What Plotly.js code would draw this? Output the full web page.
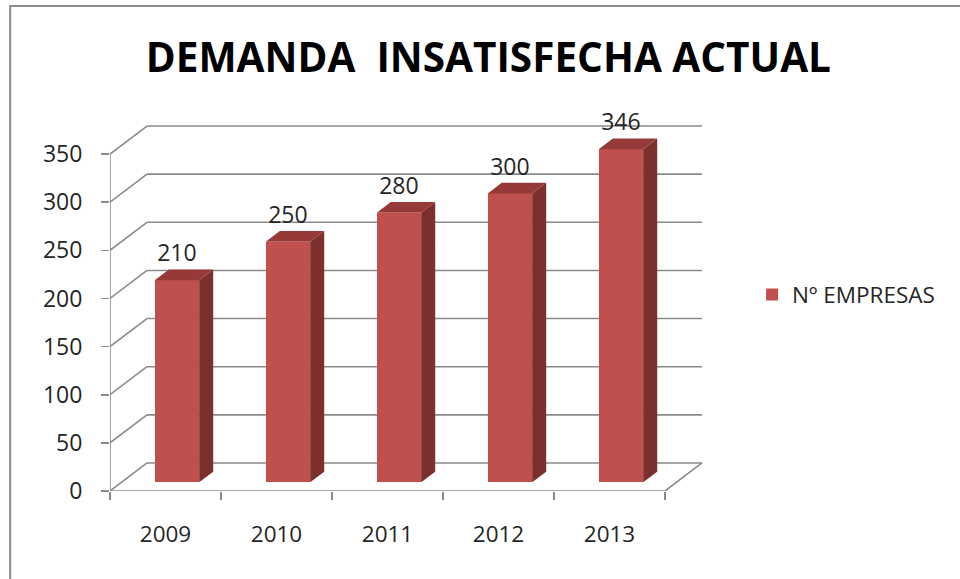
<!DOCTYPE html>
<html>
<head>
<meta charset="utf-8">
<script src="https://cdn.plot.ly/plotly-3.0.1.min.js"></script>
<style>
  html, body { margin: 0; padding: 0; background: #ffffff; }
  #chart { width: 960px; height: 579px; }
</style>
</head>
<body>
<div id="chart"></div>
<script>
// ---- data ----
const years = ['2009', '2010', '2011', '2012', '2013'];
const empresas = [210, 250, 280, 300, 346];
const yTicks = [0, 50, 100, 150, 200, 250, 300, 350];
const seriesName = 'Nº EMPRESAS';
const titleText = 'DEMANDA\u00a0\u00a0INSATISFECHA ACTUAL';

// ---- oblique 3D projection (depth offset in axis units) ----
const DX = 0.333;   // full depth along x (category units)
const DV = 29.1;    // full depth along y (value units)
const d0 = 0.31, d1 = 0.69;  // bar front / back depth
const W = 0.4;               // bar width
const n = years.length;
const idx = years.map((_, i) => i);

const frontX = idx.map(i => i + d0 * DX);
const base0 = d0 * DV;
const ddx = (d1 - d0) * DX, ddv = (d1 - d0) * DV;

// side and top faces
const sideX = [], sideY = [], topX = [], topY = [];
empresas.forEach((v, i) => {
  const xl = frontX[i] - W / 2, xr = frontX[i] + W / 2;
  const top = base0 + v;
  sideX.push(xr, xr, xr + ddx, xr + ddx, xr, null);
  sideY.push(base0, top, top + ddv, base0 + ddv, base0, null);
  topX.push(xl, xr, xr + ddx, xl + ddx, xl, null);
  topY.push(top, top, top + ddv, top + ddv, top, null);
});

const labelY = empresas.map(v => base0 + v + ddv + 14.5);

const FONT = 'Open Sans, Lato, sans-serif';
const gridColor = '#8a8a8a';

// ---- walls / gridlines as shapes ----
const shapes = [];
const xl0 = -0.5, xr0 = n - 0.5;
yTicks.forEach(t => {
  shapes.push({type: 'line', xref: 'x', yref: 'y', x0: xl0, y0: t, x1: xl0 + DX, y1: t + DV,
               line: {color: gridColor, width: 1.6}, layer: 'below'});
  shapes.push({type: 'line', xref: 'x', yref: 'y', x0: xl0 + DX, y0: t + DV, x1: xr0 + DX, y1: t + DV,
               line: {color: gridColor, width: 1.6}, layer: 'below'});
});
// front floor edge, right floor edge, front value axis
shapes.push({type: 'line', xref: 'x', yref: 'y', x0: xl0, y0: 0, x1: xr0, y1: 0,
             line: {color: gridColor, width: 1.6}, layer: 'below'});
shapes.push({type: 'line', xref: 'x', yref: 'y', x0: xr0, y0: 0, x1: xr0 + DX, y1: DV,
             line: {color: gridColor, width: 1.6}, layer: 'below'});
shapes.push({type: 'line', xref: 'x', yref: 'y', x0: xl0, y0: 0, x1: xl0, y1: yTicks[yTicks.length - 1],
             line: {color: gridColor, width: 1.6}, layer: 'below'});
// chart frame
shapes.push({type: 'rect', xref: 'paper', yref: 'paper', x0: -0.168, y0: -0.4, x1: 1.5, y1: 1.276,
             line: {color: '#8c8c8c', width: 2}, fillcolor: 'rgba(0,0,0,0)', layer: 'below'});

const traces = [
  {type: 'scatter', x: sideX, y: sideY, mode: 'lines', fill: 'toself',
   fillcolor: '#7b302e', line: {width: 0}, showlegend: false, hoverinfo: 'skip'},
  {type: 'scatter', x: topX, y: topY, mode: 'lines', fill: 'toself',
   fillcolor: '#953a38', line: {width: 0}, showlegend: false, hoverinfo: 'skip'},
  {type: 'bar', name: seriesName, x: frontX, y: empresas, base: idx.map(() => base0),
   width: W, marker: {color: '#c0504d', line: {width: 0}}, showlegend: true},
  {type: 'scatter', x: frontX, y: labelY, mode: 'text', text: empresas.map(String),
   textposition: 'middle center', textfont: {family: FONT, size: 23, color: '#262626'},
   cliponaxis: false, showlegend: false, hoverinfo: 'skip'},
  // invisible helper to carry boundary tick marks on the secondary x axis
  {type: 'scatter', x: [xl0], y: [0], xaxis: 'x2', mode: 'markers',
   marker: {opacity: 0}, showlegend: false, hoverinfo: 'skip'}
];

const xRange = [-0.5, -0.5 + 594 / 111];
const layout = {
  width: 960, height: 579,
  margin: {l: 110, r: 256, t: 111, b: 88, pad: 0},
  paper_bgcolor: '#ffffff', plot_bgcolor: 'rgba(0,0,0,0)',
  font: {family: FONT, color: '#262626'},
  title: {text: titleText, font: {family: FONT, size: 40.5, color: '#000000', weight: 'bold'},
          x: 0.637, xref: 'paper', xanchor: 'center', y: 0.9, yref: 'container', yanchor: 'middle'},
  showlegend: true,
  legend: {x: 1.081, xanchor: 'left', y: 0.516, yanchor: 'middle',
           font: {family: FONT, size: 22.5, color: '#262626'}, bgcolor: 'rgba(0,0,0,0)'},
  xaxis: {range: xRange, tickmode: 'array', tickvals: idx, ticktext: years,
          ticks: '', showgrid: false, zeroline: false, showline: false,
          tickfont: {family: FONT, size: 22.5, color: '#262626'}, ticklabelstandoff: 27},
  xaxis2: {range: xRange, overlaying: 'x', side: 'bottom', anchor: 'y', tickmode: 'array',
           tickvals: idx.concat([n]).map(i => i - 0.5), showticklabels: false,
           ticks: 'outside', ticklen: 8, tickwidth: 1.6, tickcolor: gridColor,
           showgrid: false, zeroline: false, showline: false},
  yaxis: {range: [0, 394.7], tickmode: 'array', tickvals: yTicks,
          ticks: 'outside', ticklen: 8, tickwidth: 1.6, tickcolor: gridColor,
          showgrid: false, zeroline: false, showline: false, ticklabelstandoff: 14,
          tickfont: {family: FONT, size: 23, color: '#262626'}},
  bargap: 0,
  shapes: shapes
};

Plotly.newPlot('chart', traces, layout, {staticPlot: true, displayModeBar: false});
</script>
</body>
</html>
